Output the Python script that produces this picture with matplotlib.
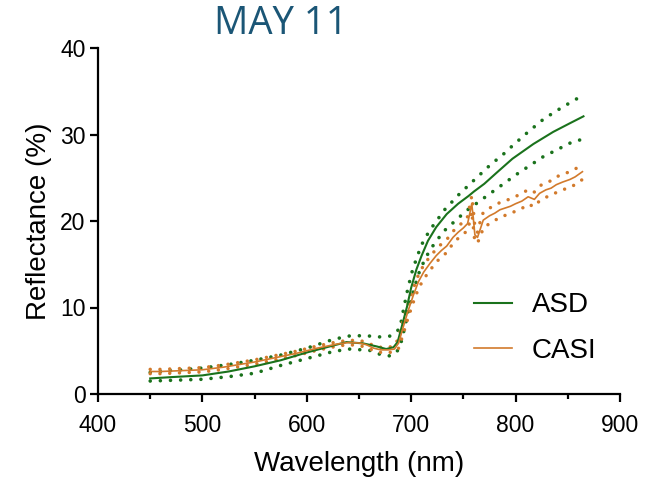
#!/usr/bin/env python3
# -*- coding: utf-8 -*-
"""Reflectance spectra, ASD vs CASI, May 11 (mean and +/- sd bands)."""

import matplotlib
matplotlib.use("Agg")
import matplotlib.pyplot as plt

# ============== DATA ============== #
asd_wl = [450, 470, 500, 525, 550, 575, 600, 622, 638, 654, 667, 676, 683,
          687, 691, 696, 700, 705, 710, 716, 724, 734, 745, 755, 760, 770,
          782, 797, 817, 836, 852, 865]
asd_mean = [1.8, 1.95, 2.15, 2.6, 3.2, 3.9, 4.8, 5.5, 6.0, 5.85, 5.5, 5.2,
            5.4, 6.0, 7.8, 10.1, 12.3, 14.4, 16.0, 17.7, 19.3, 20.8, 22.0,
            22.9, 23.4, 24.3, 25.6, 27.2, 28.9, 30.3, 31.3, 32.1]

asd_up_wl = [450, 475, 500, 525, 550, 575, 600, 625, 640, 655, 670, 680, 685,
             689, 693, 697, 701, 706, 712, 720, 732, 746, 760, 775, 790, 797,
             812, 827, 844, 861, 865]
asd_upper = [2.5, 2.75, 3.0, 3.4, 3.9, 4.5, 5.3, 6.3, 6.7, 6.75, 6.6, 6.7,
             7.2, 7.5, 10.0, 12.3, 14.2, 16.0, 17.8, 19.3, 21.3, 23.1, 24.7,
             26.4, 27.9, 28.7, 30.3, 31.8, 33.1, 34.3, 34.6]

asd_lo_wl = [450, 475, 500, 525, 550, 575, 600, 625, 640, 660, 672, 680, 686,
             690, 694, 698, 703, 708, 714, 720, 731, 753, 777, 801, 826, 852,
             865]
asd_lower = [1.5, 1.6, 1.7, 2.0, 2.4, 3.3, 4.1, 4.9, 5.2, 5.05, 4.5, 4.4, 4.8,
             5.8, 7.8, 10.0, 12.3, 14.2, 15.8, 17.0, 18.8, 21.2, 23.3, 25.4,
             27.4, 29.0, 29.5]

casi_wl = [450, 460, 470, 480, 490, 500, 510, 520, 530, 540, 550, 560, 570,
           580, 590, 600, 610, 620, 630, 640, 650, 657, 664, 671, 678, 684,
           688, 692, 697, 702, 707, 712, 718, 724, 729, 734, 740, 745, 750,
           754, 756, 758, 759.5, 761, 763.5, 766, 769, 775, 780, 785, 790,
           795, 800, 806, 812, 818, 823, 829, 834, 839, 845, 852, 857, 864]
casi_mean = [2.6, 2.6, 2.65, 2.7, 2.75, 2.8, 2.95, 3.1, 3.3, 3.5, 3.7, 3.95,
             4.2, 4.45, 4.7, 5.0, 5.3, 5.55, 5.8, 5.95, 5.9, 5.7, 5.3, 5.1,
             5.1, 5.2, 5.9, 7.6, 9.6, 11.4, 13.0, 14.1, 15.1, 16.0, 16.6,
             17.1, 18.1, 18.7, 19.2, 19.7, 20.8, 22.0, 20.3, 18.4, 18.1, 19.0,
             20.1, 20.6, 20.9, 21.3, 21.5, 21.7, 22.0, 22.3, 22.8, 22.5, 23.2,
             23.6, 23.8, 24.2, 24.5, 24.8, 25.1, 25.7]
casi_sd = [0.25, 0.25, 0.25, 0.25, 0.25, 0.25, 0.25, 0.25, 0.25, 0.25, 0.25,
           0.25, 0.25, 0.25, 0.25, 0.25, 0.25, 0.25, 0.25, 0.25, 0.3, 0.3,
           0.3, 0.3, 0.3, 0.35, 0.6, 0.8, 0.8, 0.8, 0.8, 0.8, 0.8, 0.75,
           0.75, 0.75, 0.7, 0.7, 0.7, 0.8, 0.9, 0.9, 1.0, 0.9, 0.6, 0.9, 0.9,
           0.9, 0.85, 0.85, 0.85, 0.85, 0.85, 0.85, 0.85, 0.85, 0.85, 0.85,
           0.85, 0.9, 0.9, 0.9, 0.9, 0.9]

TITLE = "MAY 11"
X_TICKS = [400, 500, 600, 700, 800, 900]
Y_TICKS = [0, 10, 20, 30, 40]

GREEN = "#1a721c"
ORANGE = "#d27a2c"
TITLE_BLUE = "#1b5676"
DOTS = (0, (0.01, 2.8))


def main() -> None:
    plt.rcParams["font.family"] = ["Liberation Sans", "DejaVu Sans"]

    fig = plt.figure(figsize=(6.47, 4.83), dpi=100)
    ax = fig.add_axes([98 / 647, 89 / 483, 522 / 647, 346 / 483])

    casi_up = [m + s for m, s in zip(casi_mean, casi_sd)]
    casi_lo = [m - s for m, s in zip(casi_mean, casi_sd)]

    # sd bands first, means on top
    for wl, vals in ((asd_up_wl, asd_upper), (asd_lo_wl, asd_lower)):
        ax.plot(wl, vals, color=GREEN, lw=2.6, linestyle=DOTS,
                dash_capstyle="round")
    for vals in (casi_up, casi_lo):
        ax.plot(casi_wl, vals, color=ORANGE, lw=2.5, linestyle=DOTS,
                dash_capstyle="round")
    ax.plot(asd_wl, asd_mean, color=GREEN, lw=1.5, label="ASD")
    ax.plot(casi_wl, casi_mean, color=ORANGE, lw=1.2, label="CASI")

    ax.set_xlim(400, 900)
    ax.set_ylim(0, 40)
    ax.set_xticks(X_TICKS)
    ax.set_xticks(range(450, 900, 100), minor=True)
    ax.set_yticks(Y_TICKS)

    for side in ("top", "right"):
        ax.spines[side].set_visible(False)
    for side in ("left", "bottom"):
        ax.spines[side].set_linewidth(1.6)
    ax.tick_params(which="major", length=6, width=1.6, labelsize=16.5,
                   color="black")
    ax.tick_params(axis="x", which="major", pad=8.5)
    ax.tick_params(axis="y", which="major", pad=3)
    ax.tick_params(which="minor", length=3.5, width=1.6)

    ax.set_xlabel("Wavelength (nm)", fontsize=20, labelpad=10)
    ax.set_ylabel("Reflectance (%)", fontsize=20, labelpad=6)

    ax.legend(loc="center left", bbox_to_anchor=(474 / 647, 155 / 483),
              bbox_transform=fig.transFigure, frameon=False, fontsize=20,
              handlelength=1.37, handletextpad=0.72, labelspacing=0.7,
              borderpad=0, borderaxespad=0)

    fig.text(281 / 647, 1 - 23.5 / 483, TITLE, family="Open Sans",
             fontsize=27.5, color=TITLE_BLUE, ha="center", va="center")

    fig.savefig("out.png", dpi=100)


if __name__ == "__main__":
    main()
